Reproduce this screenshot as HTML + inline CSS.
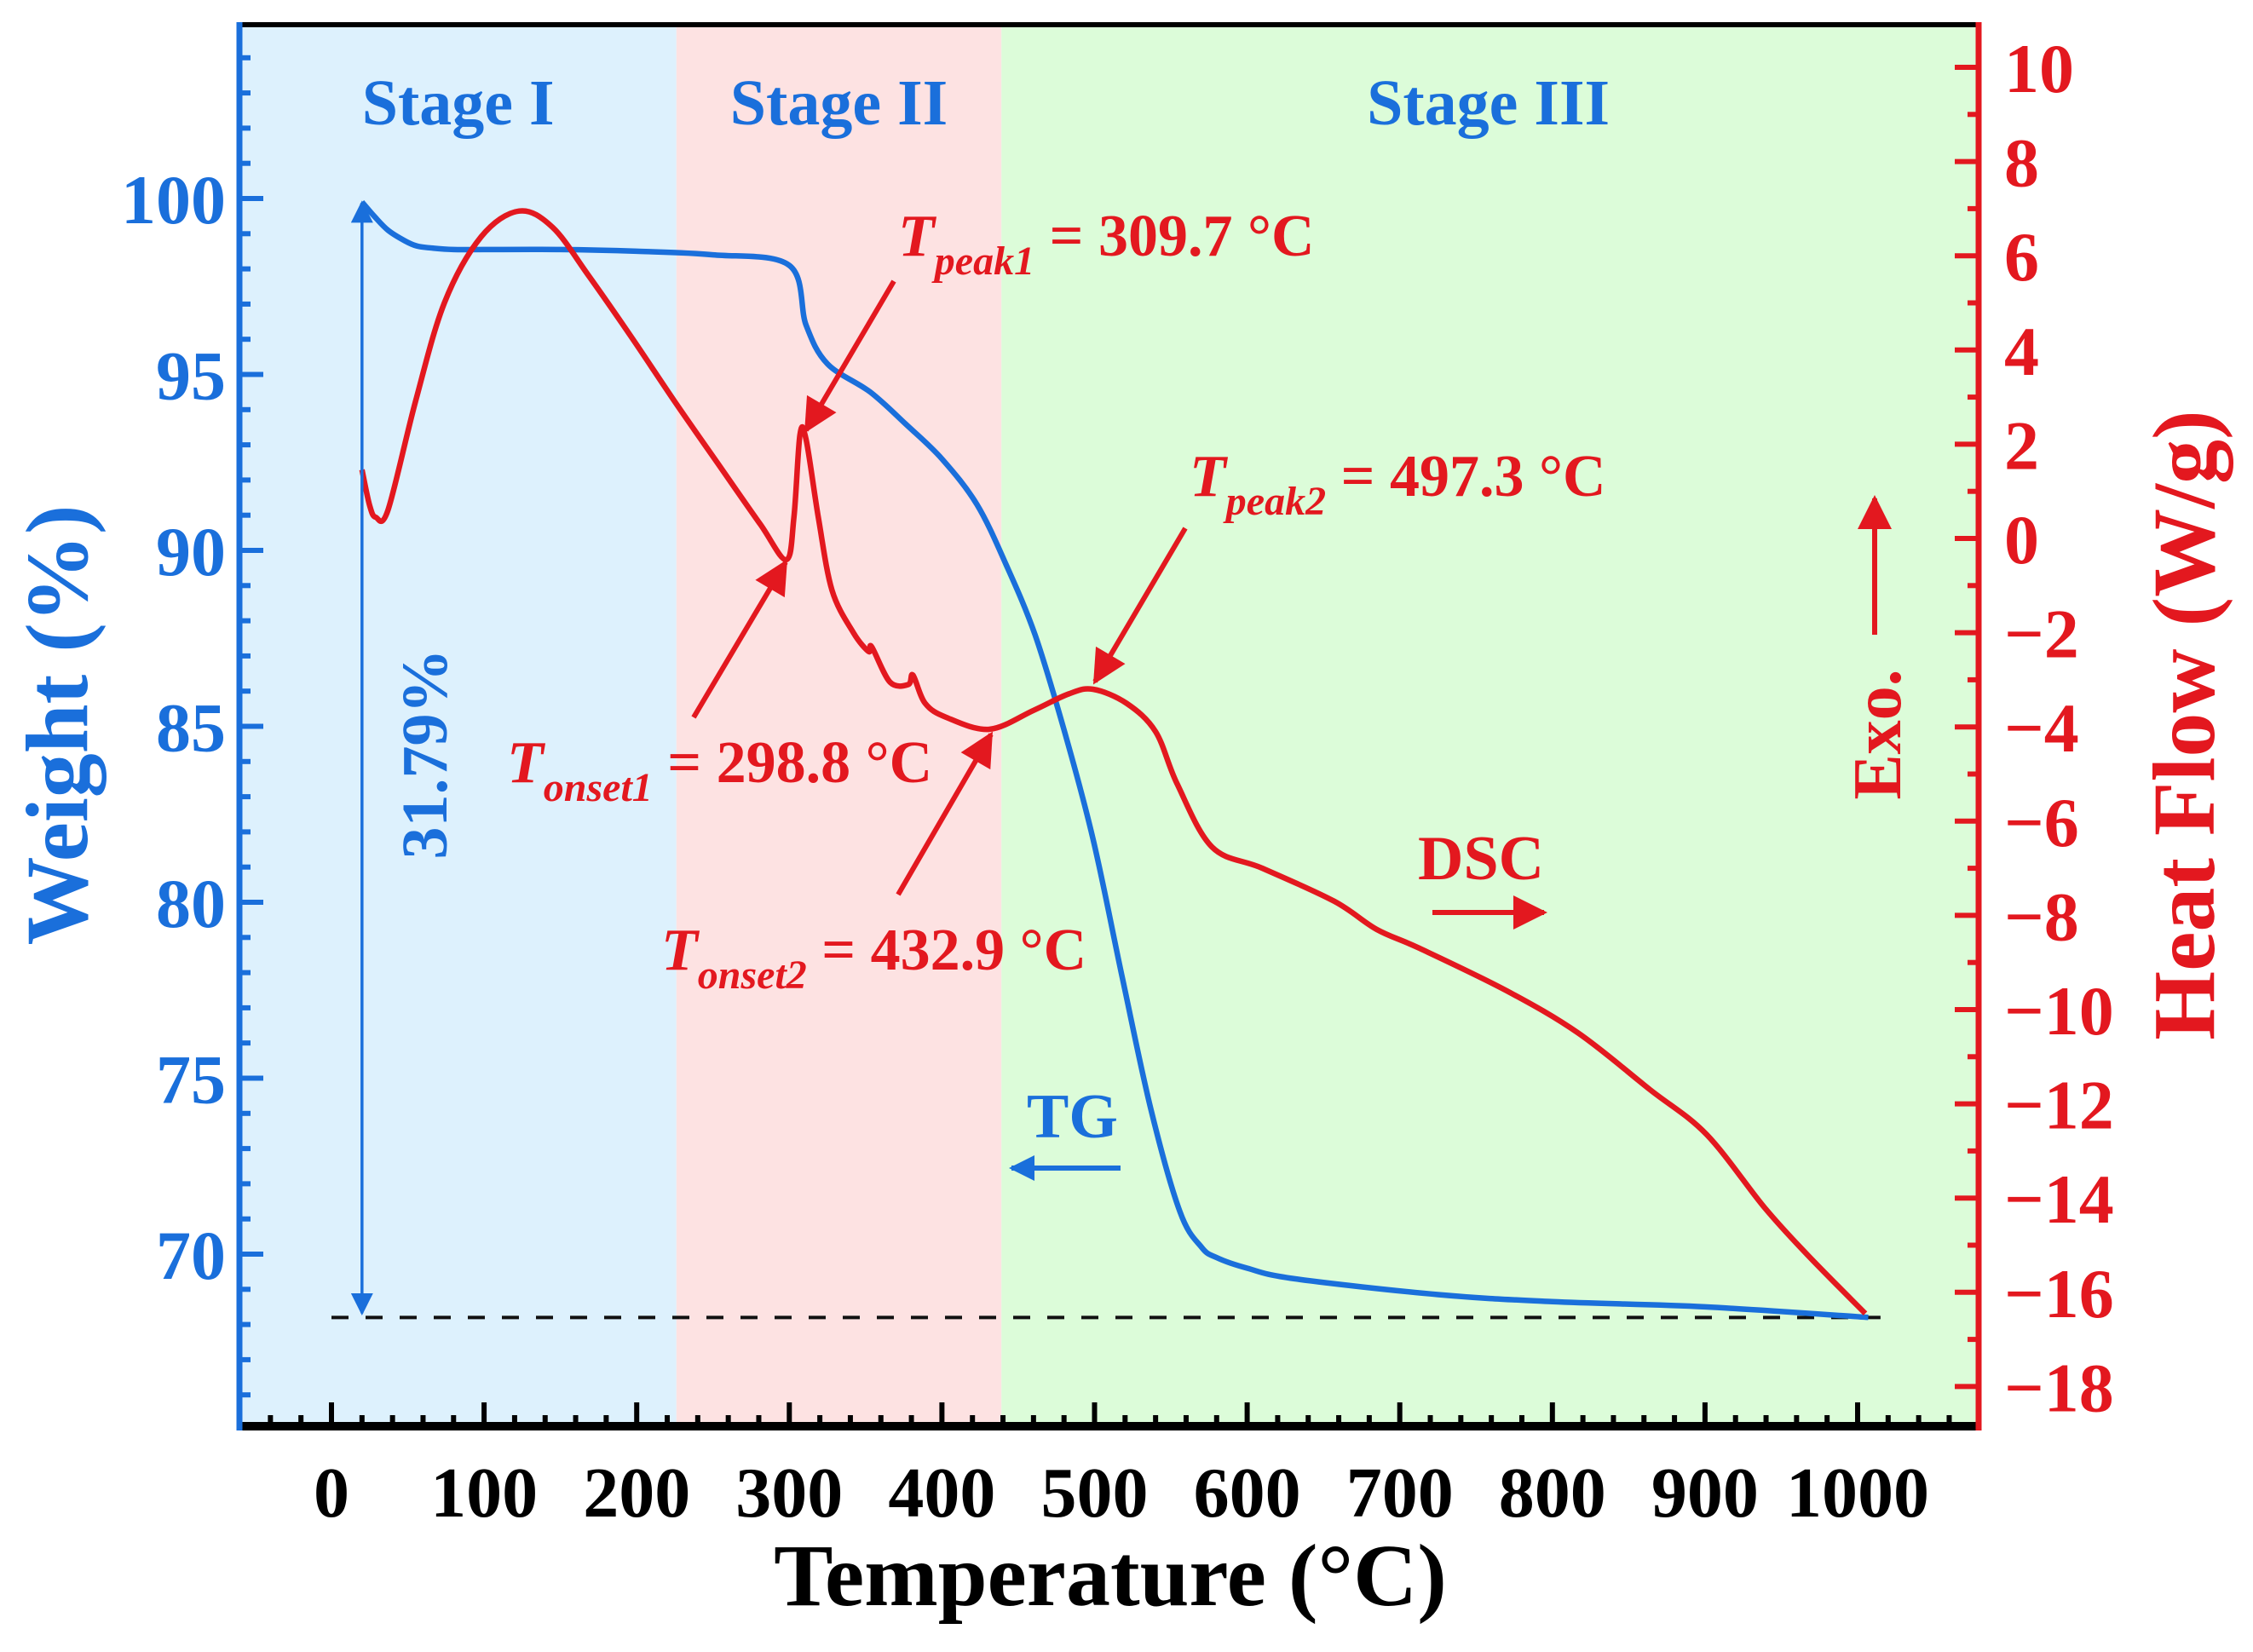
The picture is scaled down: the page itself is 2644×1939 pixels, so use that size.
<!DOCTYPE html>
<html><head><meta charset="utf-8"><style>
html,body{margin:0;padding:0;background:#fff;}
svg{display:block;font-family:"Liberation Serif",serif;font-weight:bold;}
</style></head><body>
<svg id="c" width="2644" height="1939" viewBox="0 0 2644 1939" xmlns="http://www.w3.org/2000/svg">
<defs>
<marker id="ar" viewBox="0 0 10 10" refX="9" refY="5" markerWidth="48" markerHeight="40" markerUnits="userSpaceOnUse" orient="auto"><path d="M0,0 L10,5 L0,10 z" fill="#e3181f"/></marker>
<marker id="ab" viewBox="0 0 10 10" refX="9" refY="5" markerWidth="48" markerHeight="26" markerUnits="userSpaceOnUse" orient="auto-start-reverse"><path d="M0,0 L10,5 L0,10 z" fill="#1a6fdb"/></marker>
<marker id="abt" viewBox="0 0 10 10" refX="9" refY="5" markerWidth="44" markerHeight="30" markerUnits="userSpaceOnUse" orient="auto"><path d="M0,0 L10,5 L0,10 z" fill="#1a6fdb"/></marker>
</defs>
<g id="bg"></g>
<g id="ax"></g>
<g id="marks"></g>
<g id="ann"></g>
</svg>
<script>
const xTicks=[0,100,200,300,400,500,600,700,800,900,1000];
const wTicks=[70,75,80,85,90,95,100];
const hTicks=[10,8,6,4,2,0,-2,-4,-6,-8,-10,-12,-14,-16,-18];
const stageBounds=[-60,226,439,1080];
const stageNames=["Stage I","Stage II","Stage III"];
const tgT=[20,28,37,48,56,64,80,100,150,200,250,300,311,325,353,376,400,423,442,461,480,499,518,537,556,570,580,600,631,725,800,900,1007];
const tgW=[99.9,99.5,99.1,98.8,98.65,98.6,98.55,98.55,98.55,98.5,98.4,98.1,96.4,95.3,94.5,93.6,92.6,91.3,89.6,87.6,84.9,81.8,77.9,74.1,71.2,70.2,69.9,69.6,69.3,68.85,68.65,68.5,68.2];
const dscT=[20,25,29,37,55,74,98,123,145,168,196,225,253,281,298,303,307,311,319,328,342,352,354,366,378,381,389,403,431,460,483,499,521,540,554,577,610,657,685,713,770,817,864,901,939,967,1005];
const dscH=[1.46,0.7,0.45,0.6,2.9,5.0,6.4,6.95,6.6,5.6,4.3,2.9,1.6,0.3,-0.45,0.45,2.2,2.1,0.45,-1.1,-2,-2.4,-2.3,-3.05,-3.1,-2.9,-3.5,-3.8,-4.05,-3.65,-3.3,-3.2,-3.5,-4.1,-5.2,-6.55,-7,-7.7,-8.3,-8.7,-9.6,-10.5,-11.7,-12.65,-14.2,-15.2,-16.45];
const residue=68.2;

const L=281,R=2322,T=29,B=1674;
const X=t=>389+(t)*1.791;
const YW=w=>233+(100-w)*41.3;
const YH=h=>79+(10-h)*55.3;
const BLUE="#1a6fdb",RED="#e3181f";
const NS="http://www.w3.org/2000/svg";
function mk(tag,attrs,parent,txt){const e=document.createElementNS(NS,tag);for(const k in attrs)e.setAttribute(k,attrs[k]);if(txt!==undefined)e.textContent=txt;document.getElementById(parent).appendChild(e);return e;}
const bgc=["#ddf1fd","#fde2e2","#dcfcd9"];
for(let i=0;i<3;i++){
 const x0=Math.max(L,X(stageBounds[i])),x1=Math.min(R,X(stageBounds[i+1]));
 const r=mk('rect',{x:x0,y:T,width:x1-x0,height:B-T,fill:bgc[i]},'bg');
 
 
 const t=mk('text',{x:(x0+x1)/2+(i==2?-2:0),y:146,'font-size':76,fill:BLUE,'text-anchor':'middle'},'bg',stageNames[i]);
 
 
}
for(let t=-40;t<=1060;t+=20){
 const maj=xTicks.includes(t);
 const l=mk('line',{x1:X(t),x2:X(t),y1:B,y2:B-(maj?28:13),stroke:'#000','stroke-width':6},'ax');
 
 
}
xTicks.forEach(t=>{const e=mk('text',{x:X(t),y:1780,'font-size':84,'text-anchor':'middle',fill:'#000'},'ax',t);
 
 });
for(let w=66;w<=104;w++){
 const maj=w%5==0;
 const l=mk('line',{x1:L,x2:L+(maj?28:13),y1:YW(w),y2:YW(w),stroke:BLUE,'stroke-width':6},'ax');
 
 
}
wTicks.forEach(w=>{const e=mk('text',{x:265,y:YW(w)+29,'font-size':82,'text-anchor':'end',fill:BLUE},'ax',w);
 
 });
for(let h=-18;h<=10;h++){
 const maj=h%2==0;
 const l=mk('line',{x1:R,x2:R-(maj?28:13),y1:YH(h),y2:YH(h),stroke:RED,'stroke-width':6},'ax');
 
 
}
hTicks.forEach(h=>{const e=mk('text',{x:2352,y:YH(h)+29,'font-size':82,'text-anchor':'start',fill:RED},'ax',h<0?'\u2212'+(-h):h);
 
 });
let s;
s=mk('line',{x1:L-3,x2:R,y1:T,y2:T,stroke:'#000','stroke-width':6},'ax');
s=mk('line',{x1:L-3,x2:R+3,y1:B,y2:B,stroke:'#000','stroke-width':10},'ax');
s=mk('line',{x1:L,x2:L,y1:T-3,y2:B+5,stroke:BLUE,'stroke-width':7},'ax');
s=mk('line',{x1:R,x2:R,y1:T-3,y2:B+5,stroke:RED,'stroke-width':7},'ax');
s=mk('text',{x:1303,y:1884,'font-size':104,'text-anchor':'middle',fill:'#000'},'ax','Temperature (°C)');
s=mk('text',{x:0,y:0,'font-size':104,'text-anchor':'middle',fill:BLUE,transform:'translate(102,851) rotate(-90)'},'ax','Weight (%)');
s=mk('text',{x:0,y:0,'font-size':104,'text-anchor':'middle',fill:RED,transform:'translate(2598,851) rotate(-90)'},'ax','Heat Flow (W/g)');
s=mk('line',{x1:X(0),x2:X(1015),y1:YW(residue),y2:YW(residue),stroke:'#111','stroke-width':4,'stroke-dasharray':'20 20'},'marks');
function path(xs,ys,fy){
 const p=xs.map((t,i)=>[X(t),fy(ys[i])]);
 let d='M'+p[0][0].toFixed(1)+','+p[0][1].toFixed(1);
 for(let i=0;i<p.length-1;i++){
  const p0=p[Math.max(0,i-1)],p1=p[i],p2=p[i+1],p3=p[Math.min(p.length-1,i+2)];
  const k=1/6;
  const c1=[p1[0]+(p2[0]-p0[0])*k,p1[1]+(p2[1]-p0[1])*k];
  const c2=[p2[0]-(p3[0]-p1[0])*k,p2[1]-(p3[1]-p1[1])*k];
  d+='C'+c1[0].toFixed(1)+','+c1[1].toFixed(1)+' '+c2[0].toFixed(1)+','+c2[1].toFixed(1)+' '+p2[0].toFixed(1)+','+p2[1].toFixed(1);
 }
 return d;}
s=mk('path',{d:path(tgT,tgW,YW),fill:'none',stroke:BLUE,'stroke-width':6.5,'stroke-linejoin':'round'},'marks');
s=mk('path',{d:path(dscT,dscH,YH),fill:'none',stroke:RED,'stroke-width':6.5,'stroke-linejoin':'round'},'marks');
s=mk('line',{x1:X(20),x2:X(20),y1:YW(100)+5,y2:YW(residue)-5,stroke:BLUE,'stroke-width':3.5,'marker-start':'url(#ab)','marker-end':'url(#ab)'},'ann');
s=mk('text',{x:0,y:0,'font-size':76,'text-anchor':'middle',fill:BLUE,transform:'translate(524,885) rotate(-90)'},'ann','31.79%');
function arrow(x1,y1,x2,y2,name,col){const e=mk('line',{x1:x1,y1:y1,x2:x2,y2:y2,stroke:col||RED,'stroke-width':6,'marker-end':col==BLUE?'url(#abt)':'url(#ar)'},'ann');}
function label(x,y,main,sub,rest,name){const e=mk('text',{x:x,y:y,'font-size':70,fill:RED},'ann');
 
 e.innerHTML='<tspan font-style="italic">'+main+'</tspan><tspan font-style="italic" font-size="48" dy="22">'+sub+'</tspan><tspan dy="-22">'+rest+'</tspan>';}
label(1054,300,'T','peak1',' = 309.7 °C','tpeak1-label');
arrow(1049,330,946,505,'tpeak1-arrow');
label(595,918,'T','onset1',' = 298.8 °C','tonset1-label');
arrow(814,842,922,660,'tonset1-arrow');
label(1396,582,'T','peak2',' = 497.3 °C','tpeak2-label');
arrow(1391,620,1285,800,'tpeak2-arrow');
label(776,1138,'T','onset2',' = 432.9 °C','tonset2-label');
arrow(1054,1050,1163,862,'tonset2-arrow');
s=mk('text',{x:1664,y:1032,'font-size':74,fill:RED},'ann','DSC');
arrow(1681,1071,1812,1071,'dsc-arrow');
s=mk('text',{x:1205,y:1335,'font-size':74,fill:BLUE},'ann','TG');
arrow(1315,1371,1187,1371,'tg-arrow',BLUE);
s=mk('text',{x:0,y:0,'font-size':80,'text-anchor':'middle',fill:RED,transform:'translate(2230,862) rotate(-90)'},'ann','Exo.');
arrow(2200,745,2200,585,'exo-arrow');
</script>
</body></html>
